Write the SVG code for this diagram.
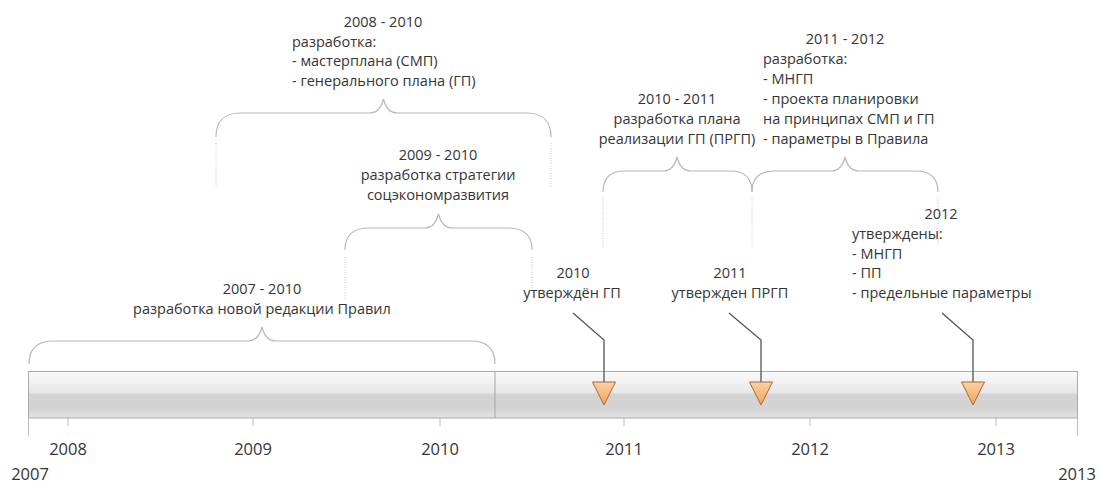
<svg xmlns="http://www.w3.org/2000/svg" width="1099" height="485" viewBox="0 0 1099 485">
<style>
text{font-family:"Open Sans","Noto Sans","Liberation Sans",sans-serif;fill:#353535;font-size:14.5px}
.yr{font-size:16.5px;text-anchor:middle}
.c{text-anchor:middle}
.brace{fill:none;stroke:#b8b8b8;stroke-width:1.2}
.dot{stroke:#c4c4c4;stroke-width:1;stroke-dasharray:1 1.5}
.tick{stroke:#bcbcbc;stroke-width:1}
.lead{fill:none;stroke:#555;stroke-width:1.3}
.mk{fill:url(#og);stroke:#a36b3a;stroke-width:1}
</style>
<defs>
<linearGradient id="bar" x1="0" y1="0" x2="0" y2="1">
<stop offset="0" stop-color="#fafafa"/>
<stop offset="0.45" stop-color="#e7e7e7"/>
<stop offset="0.5" stop-color="#d3d3d3"/>
<stop offset="0.8" stop-color="#d4d4d4"/>
<stop offset="1" stop-color="#e3e3e3"/>
</linearGradient>
<linearGradient id="og" x1="0" y1="0" x2="0" y2="1">
<stop offset="0" stop-color="#fcd0a4"/>
<stop offset="1" stop-color="#f2a35c"/>
</linearGradient>
</defs>

<g id="timeline">
<rect x="28.5" y="371.5" width="1049" height="46.5" fill="url(#bar)" stroke="#ababab" stroke-width="1"/>
<line x1="495" y1="372" x2="495" y2="418" stroke="#a5a5a5" stroke-width="1"/>
<line class="tick" x1="28.5" y1="418" x2="28.5" y2="436"/>
<line class="tick" x1="1077.5" y1="418" x2="1077.5" y2="436"/>
<line class="tick" x1="68" y1="418" x2="68" y2="426"/>
<line class="tick" x1="253" y1="418" x2="253" y2="426"/>
<line class="tick" x1="440" y1="418" x2="440" y2="426"/>
<line class="tick" x1="624" y1="418" x2="624" y2="426"/>
<line class="tick" x1="810" y1="418" x2="810" y2="426"/>
<line class="tick" x1="996" y1="418" x2="996" y2="426"/>
<text class="yr" x="68" y="455">2008</text>
<text class="yr" x="253" y="455">2009</text>
<text class="yr" x="440" y="455">2010</text>
<text class="yr" x="624" y="455">2011</text>
<text class="yr" x="810" y="455">2012</text>
<text class="yr" x="996" y="455">2013</text>
<text class="yr" x="30" y="480">2007</text>
<text class="yr" x="1077" y="480">2013</text>
</g>

<g id="span-2007-2010">
<path class="brace" d="M29,364 C29,349 37,341 53,341 L248,341 C256,341 260,335 262,327 C264,335 268,341 276,341 L471,341 C487,341 495,349 495,364"/>
<text class="c" x="262" y="294">2007 - 2010</text>
<text class="c" x="262" y="314">разработка новой редакции Правил</text>
</g>

<g id="span-2008-2010">
<path class="brace" d="M216,137 C216,122 224,113 240,113 L369.5,113 C377.5,113 381.5,107 383.5,99 C385.5,107 389.5,113 397.5,113 L527,113 C543,113 551,122 551,137"/>
<text class="c" x="383" y="27">2008 - 2010</text>
<text x="292" y="46.5">разработка:</text>
<text x="292" y="66">- мастерплана (СМП)</text>
<text x="292" y="86">- генерального плана (ГП)</text>
</g>

<g id="span-2009-2010">
<path class="brace" d="M345,250 C345,236 353,228 369,228 L424.5,228 C432.5,228 436.5,222 438.5,214 C440.5,222 444.5,228 452.5,228 L508,228 C524,228 532,236 532,250"/>
<text class="c" x="438" y="160">2009 - 2010</text>
<text class="c" x="438" y="180">разработка стратегии</text>
<text class="c" x="438" y="200">соцэкономразвития</text>
</g>

<g id="span-2010-2011">
<path class="brace" d="M603,192 C603,179 610,171 625,171 L663,171 C671,171 675,165 677,157 C679,165 683,171 691,171 L730,171 C745,171 752,179 752,192"/>
<text class="c" x="677" y="104">2010 - 2011</text>
<text class="c" x="677" y="124">разработка плана</text>
<text class="c" x="677" y="144">реализации ГП (ПРГП)</text>
</g>

<g id="span-2011-2012">
<path class="brace" d="M752,192 C752,179 759,171 775,171 L831,171 C839,171 843,165 845,157 C847,165 851,171 859,171 L915,171 C931,171 938,179 938,192"/>
<text class="c" x="845" y="44">2011 - 2012</text>
<text x="763" y="64">разработка:</text>
<text x="763" y="84">- МНГП</text>
<text x="763" y="104">- проекта планировки</text>
<text x="763" y="124">на принципах СМП и ГП</text>
<text x="763" y="144">- параметры в Правила</text>
</g>

<g id="guides">
<line class="dot" x1="216" y1="143" x2="216" y2="188"/>
<line class="dot" x1="551" y1="143" x2="551" y2="188"/>
<line class="dot" x1="345" y1="257" x2="345" y2="300"/>
<line class="dot" x1="532" y1="257" x2="532" y2="288"/>
<line class="dot" x1="603" y1="198" x2="603" y2="248"/>
<line class="dot" x1="752" y1="198" x2="752" y2="248"/>
<line class="dot" x1="938" y1="198" x2="938" y2="245"/>
</g>

<g id="milestone-2010">
<text class="c" x="573" y="278">2010</text>
<text class="c" x="572" y="298">утверждён ГП</text>
</g>
<g id="milestone-2011">
<text class="c" x="730" y="278">2011</text>
<text class="c" x="730" y="298">утвержден ПРГП</text>
</g>
<g id="milestone-2012">
<text class="c" x="941" y="219">2012</text>
<text x="852" y="239">утверждены:</text>
<text x="852" y="258.5">- МНГП</text>
<text x="852" y="278">- ПП</text>
<text x="852" y="298">- предельные параметры</text>
</g>

<g id="connectors">
<polyline class="lead" points="573,313 604,340 604,383"/>
<polyline class="lead" points="729,313 761,340 761,383"/>
<polyline class="lead" points="942,313 973,340 973,383"/>
</g>

<g id="markers">
<polygon class="mk" points="592.5,382 615.5,382 604,405"/>
<polygon class="mk" points="749.5,382 772.5,382 761,405"/>
<polygon class="mk" points="961.5,382 984.5,382 973,405"/>
</g>
</svg>
